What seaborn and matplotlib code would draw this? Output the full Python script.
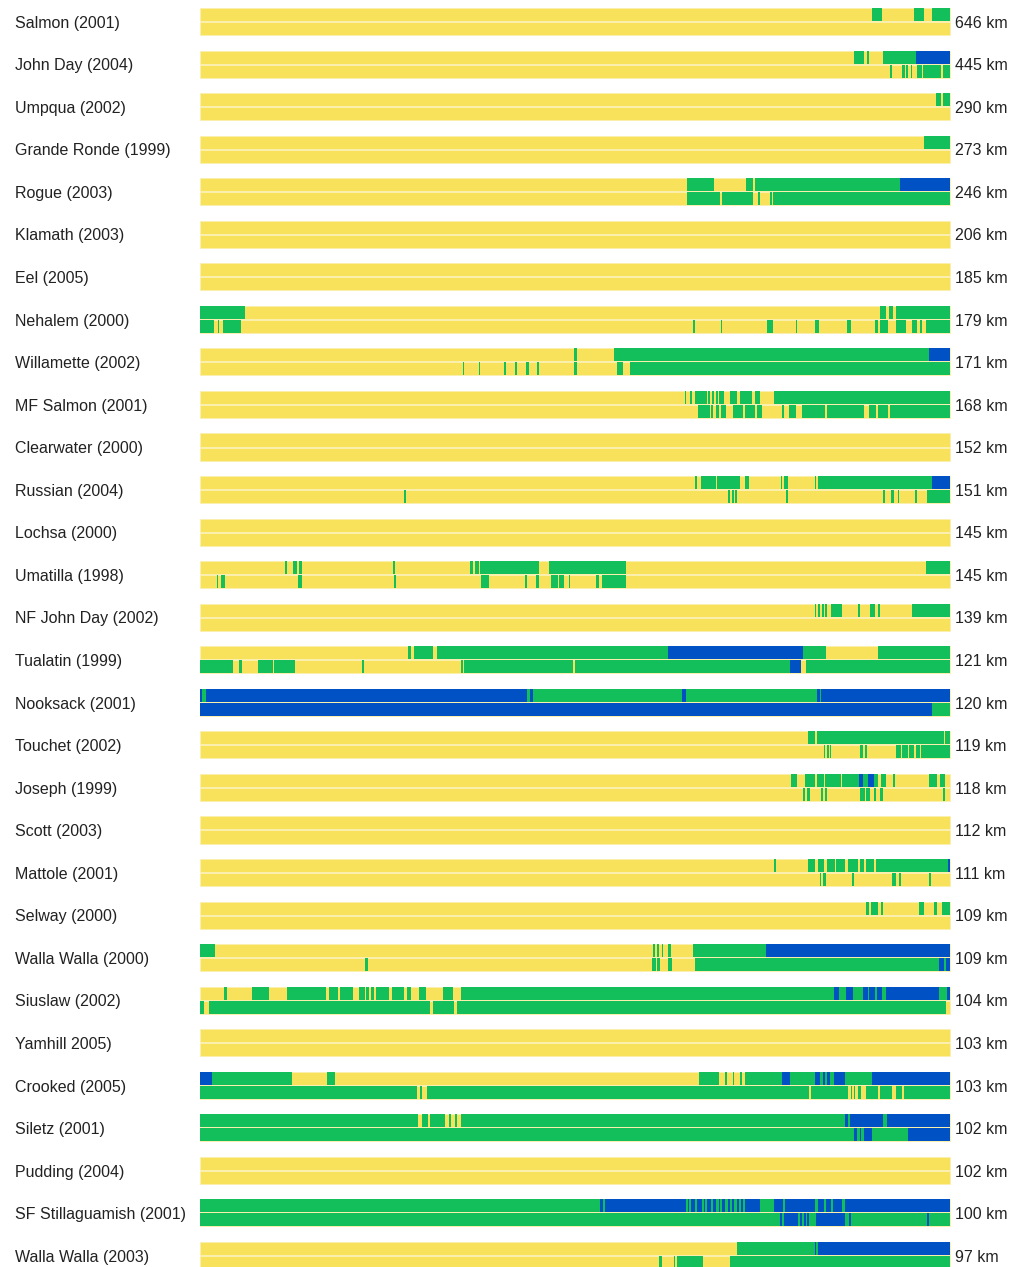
import matplotlib
matplotlib.use("Agg")
import matplotlib.pyplot as plt
import seaborn as sns

# rivers, top to bottom, with surveyed length
rivers = ["Salmon (2001)", "John Day (2004)", "Umpqua (2002)", "Grande Ronde (1999)",
          "Rogue (2003)", "Klamath (2003)", "Eel (2005)", "Nehalem (2000)",
          "Willamette (2002)", "MF Salmon (2001)", "Clearwater (2000)", "Russian (2004)",
          "Lochsa (2000)", "Umatilla (1998)", "NF John Day (2002)", "Tualatin (1999)",
          "Nooksack (2001)", "Touchet (2002)", "Joseph (1999)", "Scott (2003)",
          "Mattole (2001)", "Selway (2000)", "Walla Walla (2000)", "Siuslaw (2002)",
          "Yamhill 2005)", "Crooked (2005)", "Siletz (2001)", "Pudding (2004)",
          "SF Stillaguamish (2001)", "Walla Walla (2003)"]
lengths_km = [646, 445, 290, 273, 246, 206, 185, 179, 171, 168, 152, 151, 145, 145, 139,
              121, 120, 119, 118, 112, 111, 109, 109, 104, 103, 103, 102, 102, 100, 97]

# runs along each river in % of its length: (start, end, class), y = yellow (base), g = green, b = blue
salmon_top = [(89.7, 91.0, 'g'), (95.3, 96.6, 'g'), (97.6, 100, 'g')]
salmon_bot = []
johnday04_top = [(87.3, 88.6, 'g'), (89.0, 89.3, 'g'), (91.1, 95.5, 'g'), (95.5, 100, 'b')]
johnday04_bot = [(92.0, 92.3, 'g'), (93.6, 94.0, 'g'), (94.2, 94.5, 'g'), (94.8, 95.0, 'g'),
                 (95.7, 96.3, 'g'), (96.5, 98.8, 'g'), (99.1, 100, 'g')]
umpqua_top = [(98.2, 98.9, 'g'), (99.1, 100, 'g')]
umpqua_bot = []
granderonde_top = [(96.6, 100, 'g')]
granderonde_bot = []
rogue_top = [(65.0, 68.6, 'g'), (72.8, 73.8, 'g'), (74.0, 93.4, 'g'), (93.4, 100, 'b')]
rogue_bot = [(65.0, 69.4, 'g'), (69.6, 73.8, 'g'), (74.5, 74.7, 'g'), (76.1, 76.3, 'g'),
             (76.4, 100, 'g')]
klamath_top = []
klamath_bot = []
eel_top = []
eel_bot = []
nehalem_top = [(0, 6.1, 'g'), (90.7, 91.5, 'g'), (91.9, 92.4, 'g'), (92.9, 95.2, 'g'),
               (95.3, 100, 'g')]
nehalem_bot = [(0, 1.9, 'g'), (2.4, 2.6, 'g'), (3.1, 5.5, 'g'), (65.8, 66.0, 'g'),
               (69.5, 69.7, 'g'), (75.6, 76.5, 'g'), (79.5, 79.7, 'g'), (82.1, 82.6, 'g'),
               (86.3, 86.8, 'g'), (90.1, 90.5, 'g'), (90.7, 91.8, 'g'), (92.9, 94.2, 'g'),
               (95.0, 95.6, 'g'), (96.0, 96.3, 'g'), (96.8, 100, 'g')]
willamette_top = [(49.9, 50.3, 'g'), (55.2, 97.2, 'g'), (97.2, 100, 'b')]
willamette_bot = [(35.1, 35.3, 'g'), (37.2, 37.4, 'g'), (40.6, 40.8, 'g'), (42.1, 42.3, 'g'),
                  (43.5, 43.9, 'g'), (45.0, 45.3, 'g'), (49.9, 50.3, 'g'), (55.7, 56.5, 'g'),
                  (57.4, 100, 'g')]
mfsalmon_top = [(64.7, 64.9, 'g'), (65.4, 65.6, 'g'), (66.0, 67.6, 'g'), (67.8, 68.1, 'g'),
                (68.3, 68.6, 'g'), (68.8, 69.1, 'g'), (69.3, 69.9, 'g'), (70.7, 71.6, 'g'),
                (72.1, 73.7, 'g'), (74.0, 74.7, 'g'), (76.6, 76.8, 'g'), (76.9, 100, 'g')]
mfsalmon_bot = [(66.5, 68.0, 'g'), (68.2, 68.5, 'g'), (68.8, 69.2, 'g'), (69.5, 70.2, 'g'),
                (71.1, 72.4, 'g'), (72.7, 74.0, 'g'), (74.3, 75.0, 'g'), (77.6, 77.9, 'g'),
                (78.6, 79.5, 'g'), (80.3, 83.4, 'g'), (83.7, 88.6, 'g'), (89.2, 90.2, 'g'),
                (90.5, 91.8, 'g'), (92.1, 100, 'g')]
clearwater_top = []
clearwater_bot = []
russian_top = [(66.0, 66.3, 'g'), (66.9, 68.8, 'g'), (69.0, 72.1, 'g'), (72.7, 73.2, 'g'),
               (77.5, 77.7, 'g'), (77.9, 78.5, 'g'), (82.0, 82.2, 'g'), (82.4, 97.6, 'g'),
               (97.6, 100, 'b')]
russian_bot = [(27.3, 27.5, 'g'), (70.5, 70.7, 'g'), (71.0, 71.2, 'g'), (71.4, 71.6, 'g'),
               (78.2, 78.5, 'g'), (91.1, 91.4, 'g'), (92.2, 92.6, 'g'), (93.1, 93.3, 'g'),
               (95.4, 95.6, 'g'), (97.0, 100, 'g')]
lochsa_top = []
lochsa_bot = []
umatilla_top = [(11.4, 11.6, 'g'), (12.5, 13.0, 'g'), (13.3, 13.6, 'g'), (25.8, 26.1, 'g'),
                (36.0, 36.4, 'g'), (36.7, 37.2, 'g'), (37.4, 38.8, 'g'), (38.9, 45.2, 'g'),
                (46.6, 56.9, 'g'), (96.8, 100, 'g')]
umatilla_bot = [(2.3, 2.5, 'g'), (2.8, 3.4, 'g'), (13.1, 13.6, 'g'), (25.9, 26.2, 'g'),
                (37.5, 38.6, 'g'), (43.4, 43.7, 'g'), (44.8, 45.2, 'g'), (46.8, 47.8, 'g'),
                (47.9, 48.6, 'g'), (49.2, 49.4, 'g'), (52.9, 53.2, 'g'), (53.7, 56.9, 'g')]
nfjohnday_top = [(82.0, 82.2, 'g'), (82.5, 82.7, 'g'), (83.0, 83.2, 'g'), (83.4, 83.6, 'g'),
                 (84.2, 85.6, 'g'), (87.8, 88.1, 'g'), (89.4, 90.1, 'g'), (90.4, 90.7, 'g'),
                 (95.0, 100, 'g')]
nfjohnday_bot = []
tualatin_top = [(27.8, 28.2, 'g'), (28.6, 31.1, 'g'), (31.6, 62.5, 'g'), (62.5, 80.5, 'b'),
                (80.5, 83.5, 'g'), (90.5, 100, 'g')]
tualatin_bot = [(0, 4.5, 'g'), (5.3, 5.6, 'g'), (7.8, 8.0, 'g'), (8.1, 9.8, 'g'),
                (9.9, 12.7, 'g'), (21.6, 21.9, 'g'), (34.8, 35.1, 'g'), (35.3, 49.8, 'g'),
                (50.1, 78.7, 'g'), (78.7, 80.2, 'b'), (80.9, 100, 'g')]
nooksack_top = [(0, 0.3, 'b'), (0.3, 0.8, 'g'), (0.8, 43.7, 'b'), (43.7, 44.0, 'g'),
                (44.0, 44.4, 'b'), (44.4, 64.3, 'g'), (64.3, 64.8, 'b'), (64.8, 82.3, 'g'),
                (82.3, 82.7, 'b'), (82.7, 82.9, 'g'), (82.9, 100, 'b')]
nooksack_bot = [(0, 97.6, 'b'), (97.6, 100, 'g')]
touchet_top = [(81.1, 81.6, 'g'), (81.7, 82.1, 'g'), (82.3, 99.2, 'g'), (99.4, 100, 'g')]
touchet_bot = [(83.2, 83.4, 'g'), (83.6, 83.9, 'g'), (84.0, 84.2, 'g'), (88.1, 88.4, 'g'),
               (88.7, 89.0, 'g'), (92.9, 93.5, 'g'), (93.7, 94.4, 'g'), (94.6, 95.3, 'g'),
               (95.5, 96.0, 'g'), (96.2, 100, 'g')]
joseph_top = [(78.9, 79.7, 'g'), (80.7, 82.0, 'g'), (82.3, 83.3, 'g'), (83.4, 85.5, 'g'),
              (85.7, 86.8, 'g'), (86.9, 87.9, 'g'), (87.9, 88.4, 'b'), (88.5, 89.1, 'g'),
              (89.1, 89.9, 'b'), (89.9, 90.5, 'g'), (90.9, 91.5, 'g'), (92.4, 92.7, 'g'),
              (97.2, 98.3, 'g'), (98.7, 99.4, 'g')]
joseph_bot = [(80.5, 80.7, 'g'), (81.0, 81.4, 'g'), (82.9, 83.1, 'g'), (83.4, 83.7, 'g'),
              (88.0, 88.7, 'g'), (88.9, 89.4, 'g'), (89.9, 90.2, 'g'), (90.7, 91.1, 'g'),
              (99.1, 99.4, 'g')]
scott_top = []
scott_bot = []
mattole_top = [(76.6, 76.8, 'g'), (81.1, 82.0, 'g'), (82.4, 83.2, 'g'), (83.7, 84.7, 'g'),
               (84.8, 86.0, 'g'), (86.5, 87.8, 'g'), (88.1, 88.6, 'g'), (88.9, 89.9, 'g'),
               (90.2, 99.8, 'g'), (99.8, 100, 'b')]
mattole_bot = [(82.7, 82.9, 'g'), (83.1, 83.5, 'g'), (87.0, 87.2, 'g'), (92.3, 92.8, 'g'),
               (93.3, 93.5, 'g'), (97.3, 97.5, 'g')]
selway_top = [(88.8, 89.3, 'g'), (89.5, 90.5, 'g'), (90.8, 91.1, 'g'), (95.9, 96.6, 'g'),
              (97.9, 98.3, 'g'), (99.0, 100, 'g')]
selway_bot = []
wallawalla00_top = [(0, 2.0, 'g'), (60.5, 60.7, 'g'), (61.0, 61.3, 'g'), (61.6, 61.8, 'g'),
                    (62.5, 62.9, 'g'), (65.8, 75.5, 'g'), (75.5, 100, 'b')]
wallawalla00_bot = [(22.0, 22.4, 'g'), (60.3, 60.9, 'g'), (61.0, 61.4, 'g'), (62.4, 63.0, 'g'),
                    (66.0, 98.6, 'g'), (98.6, 99.2, 'b'), (99.2, 99.5, 'g'), (99.5, 100, 'b')]
siuslaw_top = [(3.3, 3.6, 'g'), (7.0, 9.2, 'g'), (11.6, 15.6, 'g'), (15.7, 16.9, 'g'),
               (17.2, 18.5, 'g'), (18.7, 20.4, 'g'), (21.3, 22.0, 'g'), (22.2, 22.6, 'g'),
               (22.8, 23.3, 'g'), (23.5, 25.3, 'g'), (25.7, 27.2, 'g'), (27.6, 28.2, 'g'),
               (29.3, 30.2, 'g'), (32.4, 33.8, 'g'), (34.8, 99.6, 'g'), (84.6, 85.3, 'b'),
               (86.2, 87.1, 'b'), (88.4, 89.1, 'b'), (89.3, 90.0, 'b'), (90.3, 91.0, 'b'),
               (91.5, 98.6, 'b'), (99.6, 100, 'b')]
siuslaw_bot = [(0, 0.6, 'g'), (1.2, 30.7, 'g'), (31.1, 33.9, 'g'), (34.3, 99.5, 'g')]
yamhill_top = []
yamhill_bot = []
crooked_top = [(0, 1.7, 'b'), (1.7, 12.3, 'g'), (17.0, 18.0, 'g'), (66.6, 69.3, 'g'),
               (70.1, 70.3, 'g'), (71.1, 71.3, 'g'), (72.1, 72.3, 'g'), (72.7, 77.6, 'g'),
               (77.6, 78.7, 'b'), (78.7, 89.7, 'g'), (82.1, 82.7, 'b'), (83.1, 83.4, 'b'),
               (83.7, 84.1, 'b'), (84.6, 86.0, 'b'), (89.7, 100, 'b')]
crooked_bot = [(0, 29.0, 'g'), (29.4, 29.6, 'g'), (30.3, 81.3, 'g'), (81.5, 100, 'g'),
               (86.5, 86.8, 'y'), (87.0, 87.2, 'y'), (87.4, 87.8, 'y'), (88.2, 88.8, 'y'),
               (90.5, 90.7, 'y'), (92.3, 92.8, 'y'), (93.7, 93.9, 'y')]
siletz_top = [(0, 29.1, 'g'), (29.7, 30.4, 'g'), (30.7, 32.7, 'g'), (33.3, 33.5, 'g'),
              (34.1, 34.3, 'g'), (34.8, 86.0, 'g'), (86.0, 91.1, 'b'), (86.5, 86.7, 'g'),
              (91.1, 91.6, 'g'), (91.6, 100, 'b')]
siletz_bot = [(0, 100, 'g'), (87.2, 87.6, 'b'), (88.0, 88.2, 'b'), (88.6, 89.6, 'b'),
              (94.4, 100, 'b')]
pudding_top = []
pudding_bot = []
sfstilly_top = [(0, 100, 'g'), (53.4, 74.7, 'b'), (76.6, 100, 'b'), (53.8, 54.1, 'g'),
                (64.8, 65.1, 'g'), (65.2, 65.5, 'g'), (66.0, 66.3, 'g'), (67.0, 67.3, 'g'),
                (67.4, 67.7, 'g'), (68.2, 68.5, 'g'), (68.9, 69.2, 'g'), (69.4, 69.7, 'g'),
                (70.0, 70.4, 'g'), (70.7, 71.0, 'g'), (71.3, 71.6, 'g'), (71.9, 72.2, 'g'),
                (72.4, 72.7, 'g'), (77.8, 78.0, 'g'), (82.1, 82.4, 'g'), (83.3, 83.5, 'g'),
                (84.2, 84.5, 'g'), (85.6, 86.0, 'g')]
sfstilly_bot = [(0, 100, 'g'), (77.4, 77.7, 'b'), (77.9, 79.8, 'b'), (80.1, 80.3, 'b'),
                (80.6, 80.8, 'b'), (81.0, 81.2, 'b'), (82.2, 86.0, 'b'), (86.6, 86.9, 'b'),
                (97.0, 97.3, 'b')]
wallawalla03_top = [(71.6, 82.1, 'g'), (82.1, 100, 'b'), (82.2, 82.4, 'g')]
wallawalla03_bot = [(61.3, 61.6, 'g'), (63.2, 63.4, 'g'), (63.7, 67.1, 'g'), (70.7, 100, 'g')]

top_runs = [salmon_top, johnday04_top, umpqua_top, granderonde_top, rogue_top, klamath_top,
            eel_top, nehalem_top, willamette_top, mfsalmon_top, clearwater_top, russian_top,
            lochsa_top, umatilla_top, nfjohnday_top, tualatin_top, nooksack_top, touchet_top,
            joseph_top, scott_top, mattole_top, selway_top, wallawalla00_top, siuslaw_top,
            yamhill_top, crooked_top, siletz_top, pudding_top, sfstilly_top, wallawalla03_top]
bottom_runs = [salmon_bot, johnday04_bot, umpqua_bot, granderonde_bot, rogue_bot, klamath_bot,
               eel_bot, nehalem_bot, willamette_bot, mfsalmon_bot, clearwater_bot, russian_bot,
               lochsa_bot, umatilla_bot, nfjohnday_bot, tualatin_bot, nooksack_bot, touchet_bot,
               joseph_bot, scott_bot, mattole_bot, selway_bot, wallawalla00_bot, siuslaw_bot,
               yamhill_bot, crooked_bot, siletz_bot, pudding_bot, sfstilly_bot, wallawalla03_bot]

colours = {'y': '#F9E25B', 'g': '#13BF5B', 'b': '#0051C3'}

sns.set_theme(style="white")
plt.rcParams['font.family'] = ['Liberation Sans', 'DejaVu Sans']

fig = plt.figure(figsize=(10.13, 12.67), dpi=100)
ax = fig.add_axes([199.5 / 1013, 0, 750 / 1013, 1])
ax.set_xlim(0, 100)
ax.set_ylim(29.27, -0.505)
ax.axis('off')

strip_h = 0.306
gap = 0.012
for i, (name, km) in enumerate(zip(rivers, lengths_km)):
    for runs, y0 in ((top_runs[i], i - gap - strip_h), (bottom_runs[i], i + gap)):
        ax.broken_barh([(0, 100)], (y0, strip_h), facecolors=colours['y'],
                       edgecolor='#FBEFB0', linewidth=0.5)
        for start, end, c in runs:
            ax.broken_barh([(start, end - start)], (y0, strip_h), facecolors=colours[c],
                           edgecolor='none')
    ax.text(-24.6, i + 0.04, name, ha='left', va='center', fontsize=11.5, color='#222222')
    ax.text(100.73, i + 0.04, f"{km} km", ha='left', va='center', fontsize=11.5,
            color='#222222')

fig.savefig("out.png", dpi=100)
